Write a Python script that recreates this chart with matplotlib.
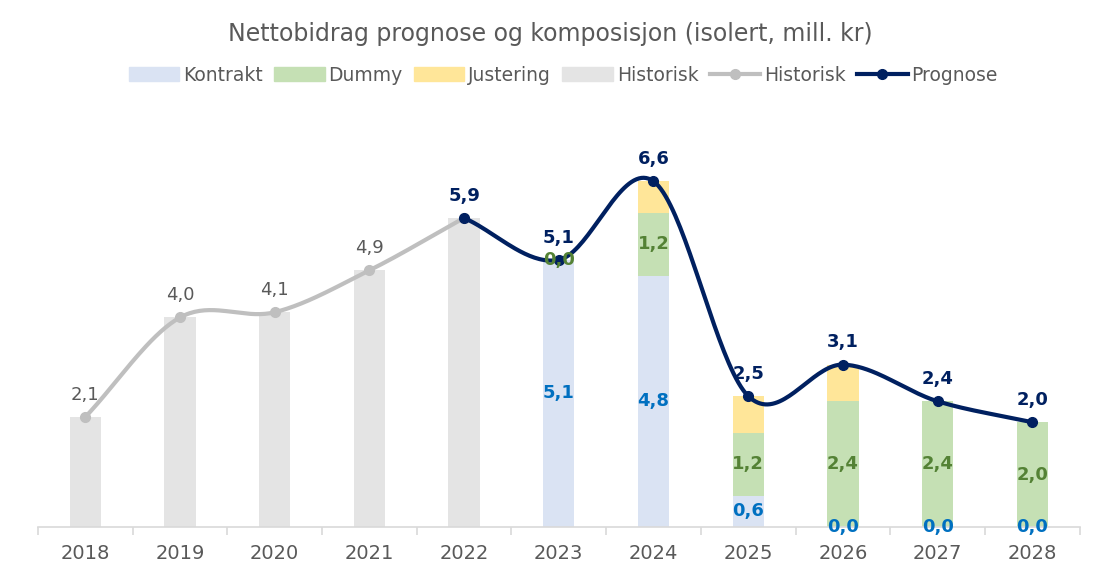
import numpy as np
import matplotlib
matplotlib.use("Agg")
import matplotlib.pyplot as plt
from matplotlib.patches import Patch
from matplotlib.lines import Line2D

plt.rcParams['font.family'] = ['DejaVu Sans']

years = ["2018", "2019", "2020", "2021", "2022", "2023", "2024", "2025", "2026", "2027", "2028"]
historisk_bar = [2.1, 4.0, 4.1, 4.9, 5.9, None, None, None, None, None, None]
kontrakt = [None, None, None, None, None, 5.1, 4.8, 0.6, 0.0, 0.0, 0.0]
dummy = [None, None, None, None, None, 0.0, 1.2, 1.2, 2.4, 2.4, 2.0]
justering = [None, None, None, None, None, 0.0, 0.6, 0.7, 0.7, 0.0, 0.0]
historisk_line = [2.1, 4.0, 4.1, 4.9, 5.9]
prognose = [5.9, 5.1, 6.6, 2.5, 3.1, 2.4, 2.0]
prognose_start = 4  # index of 2022

C_KON = "#DAE3F3"
C_DUM = "#C5E0B4"
C_JUS = "#FFE699"
C_HIS = "#E4E4E4"
C_HLINE = "#BFBFBF"
C_PROG = "#002060"
C_TXT = "#595959"
C_KLAB = "#0070C0"
C_DLAB = "#548235"


def fmt(v):
    return f"{v:.1f}".replace(".", ",")


def catmull(xs, ys, n=40):
    xs = np.asarray(xs, float)
    ys = np.asarray(ys, float)
    px = np.concatenate([[2 * xs[0] - xs[1]], xs, [2 * xs[-1] - xs[-2]]])
    py = np.concatenate([[2 * ys[0] - ys[1]], ys, [2 * ys[-1] - ys[-2]]])
    ox, oy = [], []
    t = np.linspace(0, 1, n)
    for i in range(1, len(px) - 2):
        p0, p1, p2, p3 = (np.array([px[j], py[j]]) for j in range(i - 1, i + 3))
        c1 = p1 + (p2 - p0) / 6.0
        c2 = p2 - (p3 - p1) / 6.0
        b = ((1 - t) ** 3)[:, None] * p1 + (3 * (1 - t) ** 2 * t)[:, None] * c1 \
            + (3 * (1 - t) * t ** 2)[:, None] * c2 + (t ** 3)[:, None] * p2
        ox.extend(b[:, 0])
        oy.extend(b[:, 1])
    return np.array(ox), np.array(oy)


fig = plt.figure(figsize=(11, 5.64), dpi=100)
ax = fig.add_axes([0.0345, 0.0656, 0.947, 0.743])
x = np.arange(len(years))
w = 0.33

def clean(a):
    return np.array([np.nan if v is None else v for v in a], float)

hb = clean(historisk_bar)
kb = clean(kontrakt)
db = clean(dummy)
jb = clean(justering)

ax.bar(x, hb, w, color=C_HIS, zorder=2)
ax.bar(x, kb, w, color=C_KON, zorder=2)
ax.bar(x, db, w, bottom=np.nan_to_num(kb), color=C_DUM, zorder=2)
ax.bar(x, jb, w, bottom=np.nan_to_num(kb) + np.nan_to_num(db), color=C_JUS, zorder=2)

# Historisk line
hx = x[:len(historisk_line)]
sx, sy = catmull(hx, historisk_line)
ax.plot(sx, sy, color=C_HLINE, lw=3, zorder=3, solid_capstyle='round')
ax.plot(hx, historisk_line, 'o', color=C_HLINE, ms=7, zorder=4)

# Prognose line
px_ = x[prognose_start:prognose_start + len(prognose)]
sx, sy = catmull(px_, prognose)
ax.plot(sx, sy, color=C_PROG, lw=3, zorder=5, solid_capstyle='round')
ax.plot(px_, prognose, 'o', color=C_PROG, ms=7, zorder=6)

LBL = 13
for xi, v in zip(hx[:-1], historisk_line[:-1]):
    ax.annotate(fmt(v), (xi, v), xytext=(0, 16), textcoords='offset points',
                ha='center', va='center', color=C_TXT, fontsize=LBL)
for xi, v in zip(px_, prognose):
    ax.annotate(fmt(v), (xi, v), xytext=(0, 16), textcoords='offset points',
                ha='center', va='center', color=C_PROG, fontsize=LBL, fontweight='bold')
for i in range(len(years)):
    if not np.isnan(kb[i]):
        ax.text(x[i], kb[i] / 2, fmt(kb[i]), ha='center', va='center',
                color=C_KLAB, fontsize=LBL, fontweight='bold', zorder=7)
    if not np.isnan(db[i]):
        ax.text(x[i], kb[i] + db[i] / 2, fmt(db[i]), ha='center', va='center',
                color=C_DLAB, fontsize=LBL, fontweight='bold', zorder=7)

ax.set_xlim(-0.5, len(years) - 0.5)
ax.set_ylim(0, 8)
ax.set_yticks([])
for s in ['top', 'right', 'left']:
    ax.spines[s].set_visible(False)
ax.spines['bottom'].set_color('#D9D9D9')
ax.spines['bottom'].set_linewidth(1.2)
ax.set_xticks(x)
ax.set_xticklabels(years, fontsize=14, color=C_TXT)
ax.tick_params(axis='x', length=0, pad=12)
ax.set_xticks(np.arange(-0.5, len(years), 1), minor=True)
ax.tick_params(axis='x', which='minor', length=6, color='#D9D9D9', width=1.2)

fig.text(0.5, 0.94, "Nettobidrag prognose og komposisjon (isolert, mill. kr)",
         ha='center', va='center', fontsize=17, color=C_TXT)

handles = [Patch(color=C_KON, label='Kontrakt'),
           Patch(color=C_DUM, label='Dummy'),
           Patch(color=C_JUS, label='Justering'),
           Patch(color=C_HIS, label='Historisk'),
           Line2D([], [], color=C_HLINE, lw=3, marker='o', ms=7, label='Historisk'),
           Line2D([], [], color=C_PROG, lw=3, marker='o', ms=7, label='Prognose')]
fig.legend(handles=handles, loc='center', bbox_to_anchor=(0.512, 0.867), ncol=6,
           frameon=False, fontsize=13.5, handlelength=2.7, handleheight=0.7,
           columnspacing=0.6, handletextpad=0.2, labelcolor=C_TXT)

fig.savefig("out.png", dpi=100)
